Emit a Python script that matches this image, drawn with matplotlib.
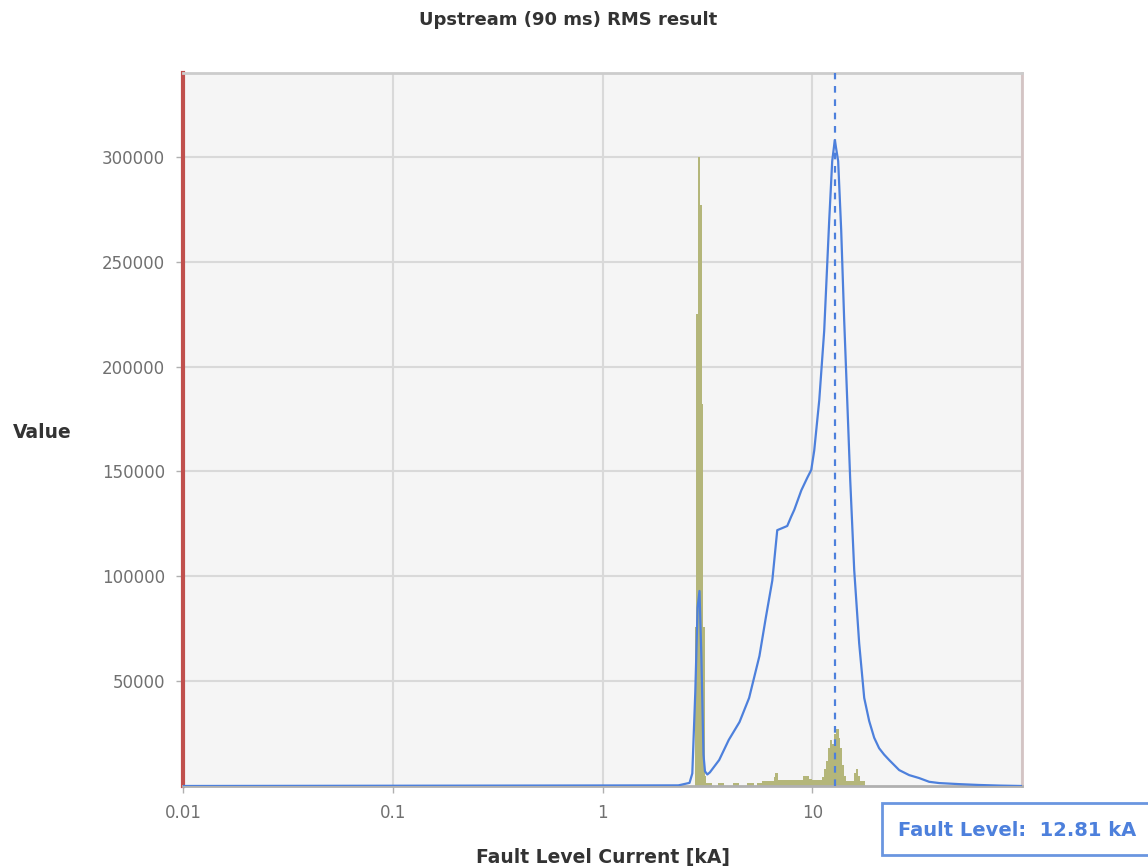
import numpy as np
import matplotlib.pyplot as plt
from matplotlib.patches import Rectangle
from matplotlib.ticker import FixedLocator, NullLocator, FixedFormatter

# blue density curve (x in kA, value)
curve_x = [0.01, 2.3, 2.6, 2.68, 2.77, 2.84, 2.90, 2.96, 3.03, 3.08, 3.16, 3.25,
           3.6, 4.0, 4.5, 5.0, 5.6, 6.0, 6.45, 6.81, 7.2, 7.6, 7.94, 8.21, 8.87,
           9.47, 9.89, 10.22, 10.8, 11.4, 12.05, 12.45, 12.81, 13.29, 13.74,
           14.2, 14.68, 15.17, 15.85, 16.74, 17.69, 18.68, 19.74, 20.84, 22.0,
           23.26, 25.96, 28.97, 32.3, 36.1, 40.3, 50.0, 62.0, 78.0, 100.0]
curve_y = [0, 300, 1500, 6000, 45000, 85000, 93000, 62000, 15000, 7000, 5500, 6500,
           12400, 22000, 30500, 42000, 62000, 80000, 98000, 122000, 123000, 124000,
           128500, 131700, 141000, 147000, 150700, 160000, 184000, 217000, 270000,
           298000, 308000, 298000, 265000, 222000, 184000, 146000, 103000, 68000,
           42000, 31000, 23000, 18000, 15000, 12400, 7600, 5200, 3800, 2000, 1400,
           900, 500, 200, 0]

# olive histogram (bin edges in kA, counts)
hist_edges = [2.755, 2.805, 2.86, 2.91, 2.97, 3.02, 3.07, 3.13, 3.31, 3.54, 3.81,
              4.17, 4.49, 4.86, 5.27, 5.44, 5.75, 6.54, 6.65, 6.85, 9.0, 9.7,
              10.0, 11.12, 11.4, 11.65, 11.9, 12.15, 12.45, 12.75, 13.05, 13.35,
              13.6, 13.9, 14.2, 14.5, 15.8, 16.1, 16.5, 16.9, 17.9]
hist_counts = [76000, 225000, 300000, 277000, 182000, 76000, 5000, 1500, 0, 1500,
               0, 1500, 0, 1500, 0, 1500, 2500, 4500, 6200, 2800, 5000, 3500,
               3000, 4500, 8000, 12000, 18000, 22000, 20000, 25000, 27000, 23000,
               18000, 10000, 5000, 2500, 6000, 8000, 5000, 2500]

fault_level = 12.81
x_ticks = [0.01, 0.1, 1, 10]
x_labels = ["0.01", "0.1", "1", "10"]
y_ticks = [50000, 100000, 150000, 200000, 250000, 300000]

blue = "#4d80dc"
olive = "#b4b67a"

plt.rcParams['font.family'] = ['DejaVu Sans']
fig = plt.figure(figsize=(11.48, 8.68), dpi=100)
ax = fig.add_axes([183 / 1148, 1 - 786 / 868, 839 / 1148, 713 / 868])
ax.set_facecolor("#f5f5f5")

ax.stairs(hist_counts, hist_edges, fill=True, color=olive, lw=0, zorder=2)
ax.plot(curve_x, curve_y, color=blue, lw=1.6, zorder=3)
ax.axvline(fault_level, color=blue, lw=1.6, ls=(0, (3, 3)), zorder=4)

ax.set_xscale("log")
ax.set_xlim(0.01, 100)
ax.set_ylim(0, 340000)
ax.xaxis.set_major_locator(FixedLocator(x_ticks))
ax.xaxis.set_major_formatter(FixedFormatter(x_labels))
ax.xaxis.set_minor_locator(NullLocator())
ax.set_yticks(y_ticks)
ax.set_yticklabels([str(v) for v in y_ticks])

ax.grid(True, color="#d9d9d9", lw=1.5, zorder=0)
ax.axvline(100, color="#d9d9d9", lw=1.5, zorder=0)
ax.axhline(340000, color="#d9d9d9", lw=1.5, zorder=0)
ax.set_axisbelow(True)

ax.spines["left"].set_color("#c0504d")
ax.spines["left"].set_linewidth(3)
ax.spines["right"].set_color("#d4c4c4")
ax.spines["right"].set_linewidth(2)
ax.spines["top"].set_color("#cccccc")
ax.spines["top"].set_linewidth(2)
ax.spines["bottom"].set_color("#b0b0b0")
ax.spines["bottom"].set_linewidth(2)

ax.tick_params(axis="both", colors="#b0b0b0", labelcolor="#707070",
               labelsize=12, length=5, width=1)
ax.tick_params(axis="x", pad=8)
ax.tick_params(axis="y", pad=8)

fig.text(568 / 1148, 1 - 20 / 868, "Upstream (90 ms) RMS result", ha="center",
         va="center", fontsize=13, fontweight="bold", color="#333333")
fig.text(42 / 1148, 1 - 433 / 868, "Value", ha="center", va="center",
         fontsize=13.5, fontweight="bold", color="#333333")
fig.text(603 / 1148, 1 - 857 / 868, "Fault Level Current [kA]", ha="center",
         va="center", fontsize=13.5, fontweight="bold", color="#333333")

fig.patches.append(Rectangle((882 / 1148, 1 - 855 / 868), 300 / 1148, 52 / 868,
                             transform=fig.transFigure, facecolor="white",
                             edgecolor="#6a96e0", lw=2))
fig.text(898 / 1148, 1 - 831 / 868, "Fault Level:  %.2f kA" % fault_level,
         ha="left", va="center", fontsize=14, fontweight="bold", color=blue)

fig.savefig("out.png", dpi=100)
